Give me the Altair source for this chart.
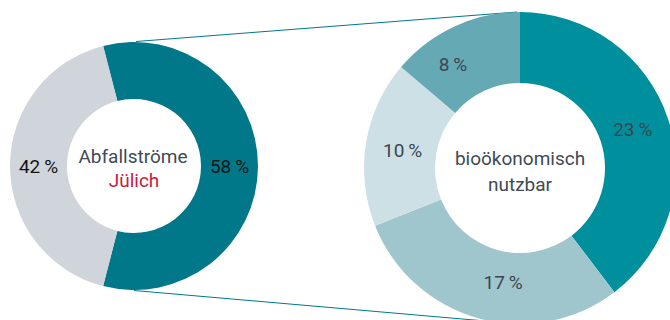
import math
import altair as alt
import pandas as pd

# ---- data ----
left_parts = ["bioökonomisch nutzbar", "nicht nutzbar"]
left_values = [58, 42]
right_parts = ["Anteil A", "Anteil B", "Anteil C", "Anteil D"]
right_values = [23, 17, 10, 8]
left_center_title = "Abfallströme"
left_center_sub = "Jülich"
right_center_lines = ["bioökonomisch", "nutzbar"]

# ---- styles / layout ----
left_colors = ["#00788a", "#d0d5db"]
right_colors = ["#008f9d", "#9fc6cd", "#cde0e6", "#65a9b5"]
right_label_nudge = [(0, 0), (15, 0), (0, 2), (-17, 5)]  # (dx, dy) per label
FONT = "Roboto"
FS = 19
W, H = 670, 320
LCX, LCY, LR, Lr = 134, 166, 124, 67
RCX, RCY, RR, Rr = 520, 168, 156, 85

left_df = pd.DataFrame({
    "part": left_parts,
    "value": left_values,
    "idx": list(range(len(left_parts))),
    "label": [f"{v}\u2009%" for v in left_values],
})
right_df = pd.DataFrame({
    "part": right_parts,
    "value": right_values,
    "idx": list(range(len(right_parts))),
    "label": [f"{v}\u2009%" for v in right_values],
})

# left donut: first slice centred on the right side
frac = left_values[0] / sum(left_values)
start = math.pi / 2 - math.pi * frac
left_theta = alt.Theta("value:Q", stack=True,
                       scale=alt.Scale(range=[start, start + 2 * math.pi]))
left_base = alt.Chart(left_df).encode(
    theta=left_theta,
    order=alt.Order("idx:Q"),
)
left_arc = left_base.mark_arc(innerRadius=Lr, outerRadius=LR).encode(
    x=alt.value(LCX), y=alt.value(LCY),
    color=alt.Color("part:N", scale=alt.Scale(domain=left_parts, range=left_colors), legend=None),
)
left_txt = left_base.mark_text(radius=(LR + Lr) / 2, font=FONT, fontSize=FS,
                               color="#151515", baseline="middle", align="center").encode(
    x=alt.value(LCX), y=alt.value(LCY + 1), text="label:N",
)
left = alt.layer(left_arc, left_txt)

right_theta = alt.Theta("value:Q", stack=True,
                        scale=alt.Scale(range=[0, 2 * math.pi]))
right_base = alt.Chart(right_df).encode(
    theta=right_theta,
    order=alt.Order("idx:Q"),
)
right_arc = right_base.mark_arc(innerRadius=Rr, outerRadius=RR).encode(
    x=alt.value(RCX), y=alt.value(RCY),
    color=alt.Color("part:N", scale=alt.Scale(domain=right_parts, range=right_colors), legend=None),
)
right_txts = []
for i, (ddx, ddy) in enumerate(right_label_nudge):
    right_txts.append(
        right_base.mark_text(radius=119, font=FONT, fontSize=FS, dx=ddx, dy=ddy,
                             color="#3a4750", baseline="middle", align="center").encode(
            x=alt.value(RCX), y=alt.value(RCY),
            text=alt.condition(f"datum.idx == {i}", "label:N", alt.value("")),
        )
    )
right = alt.layer(right_arc, *right_txts)

one = pd.DataFrame({"k": [0]})
line_top = alt.Chart(one).mark_rule(color="#00788a", strokeWidth=1).encode(
    x=alt.value(LCX + 2), y=alt.value(LCY - LR - 0.5),
    x2=alt.value(RCX - 3), y2=alt.value(RCY - RR),
)
line_bot = alt.Chart(one).mark_rule(color="#00788a", strokeWidth=1).encode(
    x=alt.value(LCX), y=alt.value(LCY + LR + 0.5),
    x2=alt.value(RCX), y2=alt.value(RCY + RR),
)


def center_text(txt, x, y, color):
    return alt.Chart(pd.DataFrame({"t": [txt]})).mark_text(
        font=FONT, fontSize=FS, color=color, baseline="middle", align="center").encode(
        x=alt.value(x), y=alt.value(y), text="t:N")


ctext_l1 = center_text(left_center_title, LCX - 1, 157, "#3e4a55")
ctext_l2 = center_text(left_center_sub, LCX, 181, "#c8203e")
ctext_r1 = center_text(right_center_lines[0], RCX, 159, "#3e4a55")
ctext_r2 = center_text(right_center_lines[1], RCX, 185, "#3e4a55")

chart = alt.layer(line_top, line_bot, left, right,
                  ctext_l1, ctext_l2, ctext_r1, ctext_r2).resolve_scale(
    theta="independent", color="independent"
).properties(
    width=W, height=H, padding=0, autosize=alt.AutoSizeParams(type="none")
).configure_view(stroke=None)

chart.save("out.html", embed_options={"renderer": "svg", "actions": False})
